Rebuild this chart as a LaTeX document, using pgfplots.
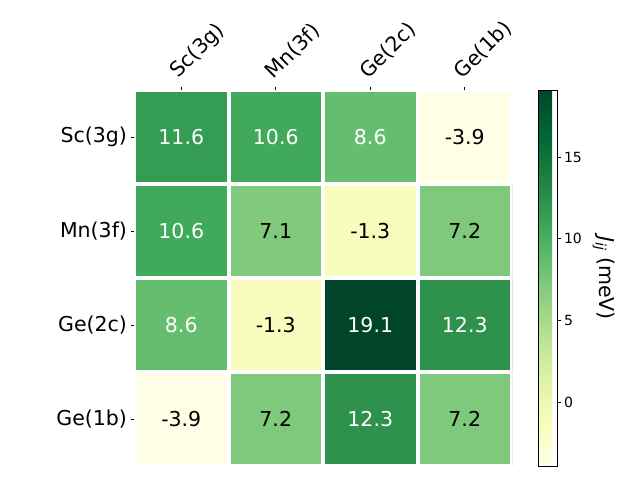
\documentclass[border=0pt]{standalone}
\usepackage{fontspec}
\setmainfont{DejaVu Sans}
\usepackage{pgfplots}
\pgfplotsset{compat=1.18}
\pgfplotsset{colormap={YlGn}{rgb255=(255,255,229) rgb255=(247,252,185) rgb255=(217,240,163) rgb255=(173,221,142) rgb255=(120,198,121) rgb255=(65,171,93) rgb255=(35,132,67) rgb255=(0,104,55) rgb255=(0,69,41)}}
\begin{document}
\begin{tikzpicture}[x=1pt,y=1pt]
\useasboundingbox (0,0) rectangle (640,480);
\begin{axis}[
 at={(134pt,14pt)}, anchor=south west,
 scale only axis, width=378pt, height=376pt,
 xmin=-0.5, xmax=3.5, ymin=-0.5, ymax=3.5, y dir=reverse,
 axis line style={draw=none},
 xtick={0,1,2,3}, ytick={0,1,2,3},
 xticklabels={Sc(3g),Mn(3f),Ge(2c),Ge(1b)},
 yticklabels={Sc(3g),Mn(3f),Ge(2c),Ge(1b)},
 xtick pos=right, xticklabel pos=right, ytick pos=left,
 tick align=outside, major tick length=3.5pt,
 tick style={black, line width=0.8pt},
 xticklabel style={rotate=45, anchor=south west, font=\fontsize{20.5}{24}\selectfont},
 yticklabel style={font=\fontsize{20.5}{24}\selectfont},
 colormap name=YlGn,
 point meta min=-3.9, point meta max=19.1,
 colorbar,
 colorbar shift/.style={xshift=26pt},
 colorbar style={
   at={(parent axis.north east)}, anchor=north west,
   scale only axis, width=19pt, height=376pt,
   ytick={0,5,10,15},
   ytick pos=right, yticklabel pos=right,
   /pgf/number format/assume math mode=true,
   yticklabel style={font=\fontsize{14}{16}\selectfont},
   tick align=outside, major tick length=3.5pt,
   tick style={black, line width=0.8pt},
   axis line style={black, line width=0.8pt},
   ylabel={\textit{J}\textsubscript{\textit{ij}} (meV)},
   ylabel shift=4pt,
   ylabel style={rotate=180, font=\fontsize{20.5}{24}\selectfont},
 },
]
\addplot[matrix plot*, mesh/cols=4, point meta=explicit] table[meta=c] {
x y c
0 0 11.6
1 0 10.6
2 0 8.6
3 0 -3.9
0 1 10.6
1 1 7.1
2 1 -1.3
3 1 7.2
0 2 8.6
1 2 -1.3
2 2 19.1
3 2 12.3
0 3 -3.9
1 3 7.2
2 3 12.3
3 3 7.2
};
\draw[white, line width=4pt] (axis cs:0.5,-0.5) -- (axis cs:0.5,3.5);
\draw[white, line width=4pt] (axis cs:1.5,-0.5) -- (axis cs:1.5,3.5);
\draw[white, line width=4pt] (axis cs:2.5,-0.5) -- (axis cs:2.5,3.5);
\draw[white, line width=4pt] (axis cs:-0.5,0.5) -- (axis cs:3.5,0.5);
\draw[white, line width=4pt] (axis cs:-0.5,1.5) -- (axis cs:3.5,1.5);
\draw[white, line width=4pt] (axis cs:-0.5,2.5) -- (axis cs:3.5,2.5);
\draw[white, line width=4pt] (axis cs:-0.5,-0.5) rectangle (axis cs:3.5,3.5);
\addplot[draw=none, mark=none, nodes near coords, point meta=explicit symbolic,
  nodes near coords align={center},
  every node near coord/.append style={text=white, font=\fontsize{20.5}{24}\selectfont}]
  table[meta=l] {
x y l
0 0 11.6
1 0 10.6
2 0 8.6
0 1 10.6
0 2 8.6
2 2 19.1
3 2 12.3
2 3 12.3
};
\addplot[draw=none, mark=none, nodes near coords, point meta=explicit symbolic,
  nodes near coords align={center},
  every node near coord/.append style={text=black, font=\fontsize{20.5}{24}\selectfont}]
  table[meta=l] {
x y l
3 0 -3.9
1 1 7.1
3 1 7.2
2 1 -1.3
1 2 -1.3
0 3 -3.9
1 3 7.2
3 3 7.2
};
\end{axis}
\end{tikzpicture}
\end{document}
